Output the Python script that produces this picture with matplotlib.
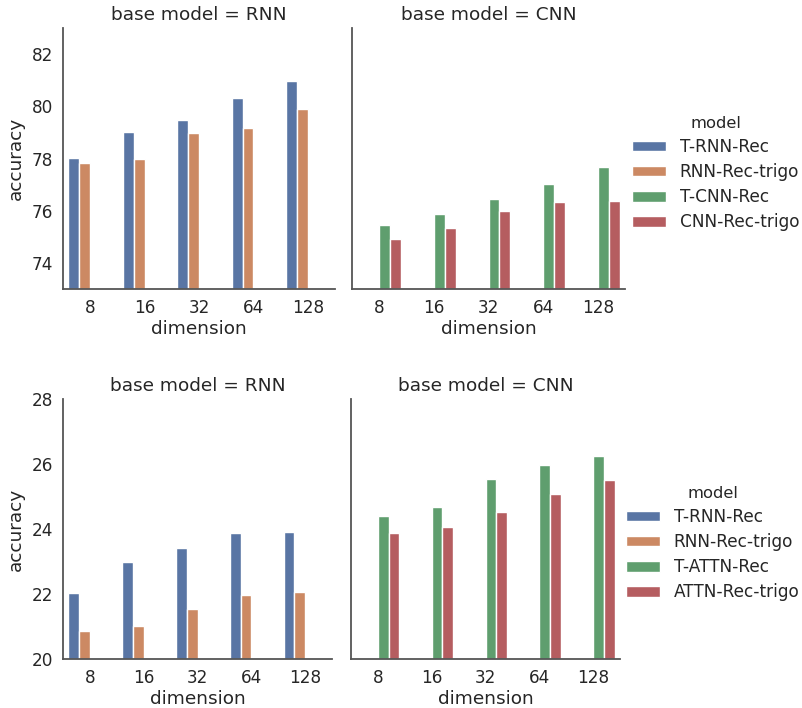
import matplotlib
matplotlib.use("Agg")
import matplotlib.pyplot as plt
import seaborn as sns
import numpy as np

dimensions = ["8", "16", "32", "64", "128"]

# top row
top_models = ["T-RNN-Rec", "RNN-Rec-trigo", "T-CNN-Rec", "CNN-Rec-trigo"]
top_t_rnn = [78.03, 79.00, 79.47, 80.32, 80.98]
top_rnn_trigo = [77.84, 77.97, 78.96, 79.15, 79.89]
top_t_cnn = [75.45, 75.88, 76.46, 77.04, 77.66]
top_cnn_trigo = [74.92, 75.34, 75.99, 76.35, 76.38]

# bottom row
bot_models = ["T-RNN-Rec", "RNN-Rec-trigo", "T-ATTN-Rec", "ATTN-Rec-trigo"]
bot_t_rnn = [22.03, 22.99, 23.42, 23.89, 23.92]
bot_rnn_trigo = [20.86, 21.02, 21.54, 21.97, 22.05]
bot_t_attn = [24.40, 24.69, 25.54, 25.96, 26.25]
bot_attn_trigo = [23.89, 24.05, 24.52, 25.08, 25.52]

sns.set_style("white")
plt.rcParams['font.family'] = ['DejaVu Sans']
plt.rcParams['font.size'] = 13

base = sns.color_palette("deep", 4)
colors = [sns.desaturate(c, 0.75) for c in base]
text_color = "#262626"

fig = plt.figure(figsize=(8.02, 7.08), dpi=100)

def draw(ax, series, hue_idx, title, ylim, yticks, show_ylabel):
    x = np.arange(len(dimensions))
    n = 4
    w = 0.8 / n
    for vals, hi in zip(series, hue_idx):
        off = -0.4 + w * (hi + 0.5)
        ax.bar(x + off, np.array(vals) - ylim[0], bottom=ylim[0], width=w,
               color=colors[hi], edgecolor="white", linewidth=1)
    ax.set_xlim(-0.5, len(dimensions) - 0.5)
    ax.set_ylim(*ylim)
    ax.set_xticks(x)
    ax.set_xticklabels(dimensions)
    ax.set_yticks(yticks)
    ax.set_title(title, color=text_color, fontsize=13.3)
    ax.set_xlabel("dimension", color=text_color, fontsize=13.3, labelpad=2)
    if show_ylabel:
        ax.set_ylabel("accuracy", color=text_color, fontsize=13.3, labelpad=5)
    else:
        ax.set_yticklabels([])
    ax.tick_params(axis="both", labelsize=12.2, colors=text_color, length=0, pad=7)
    for s in ["top", "right"]:
        ax.spines[s].set_visible(False)
    for s in ["left", "bottom"]:
        ax.spines[s].set_color("#555555")
        ax.spines[s].set_linewidth(1.3)

ax1 = fig.add_axes([63/802, 1-289/708, 272/802, 261/708])
ax2 = fig.add_axes([352/802, 1-289/708, 273/802, 261/708])
ax3 = fig.add_axes([63/802, 1-659/708, 269/802, 260/708])
ax4 = fig.add_axes([351/802, 1-659/708, 269/802, 260/708])

draw(ax1, [top_t_rnn, top_rnn_trigo], [0, 1], "base model = RNN", (73, 83), [74, 76, 78, 80, 82], True)
draw(ax2, [top_t_cnn, top_cnn_trigo], [2, 3], "base model = CNN", (73, 83), [74, 76, 78, 80, 82], False)
draw(ax3, [bot_t_rnn, bot_rnn_trigo], [0, 1], "base model = RNN", (20, 28), [20, 22, 24, 26, 28], True)
draw(ax4, [bot_t_attn, bot_attn_trigo], [2, 3], "base model = CNN", (20, 28), [20, 22, 24, 26, 28], False)

from matplotlib.patches import Patch

def add_legend(models, anchor):
    handles = [Patch(facecolor=colors[i], edgecolor="white", label=m) for i, m in enumerate(models)]
    leg = fig.legend(handles=handles, title="model", loc="center left",
                     bbox_to_anchor=anchor, frameon=False, fontsize=12.2,
                     title_fontsize=11.8, handlelength=2.0, handleheight=0.6,
                     labelspacing=0.42, handletextpad=0.8, borderaxespad=0,
                     borderpad=0.2)
    for t in leg.get_texts():
        t.set_color(text_color)
    leg.get_title().set_color(text_color)

add_legend(top_models, (629/802, 1-173.5/708))
add_legend(bot_models, (623/802, 1-543.5/708))

fig.savefig("out.png", dpi=100)
